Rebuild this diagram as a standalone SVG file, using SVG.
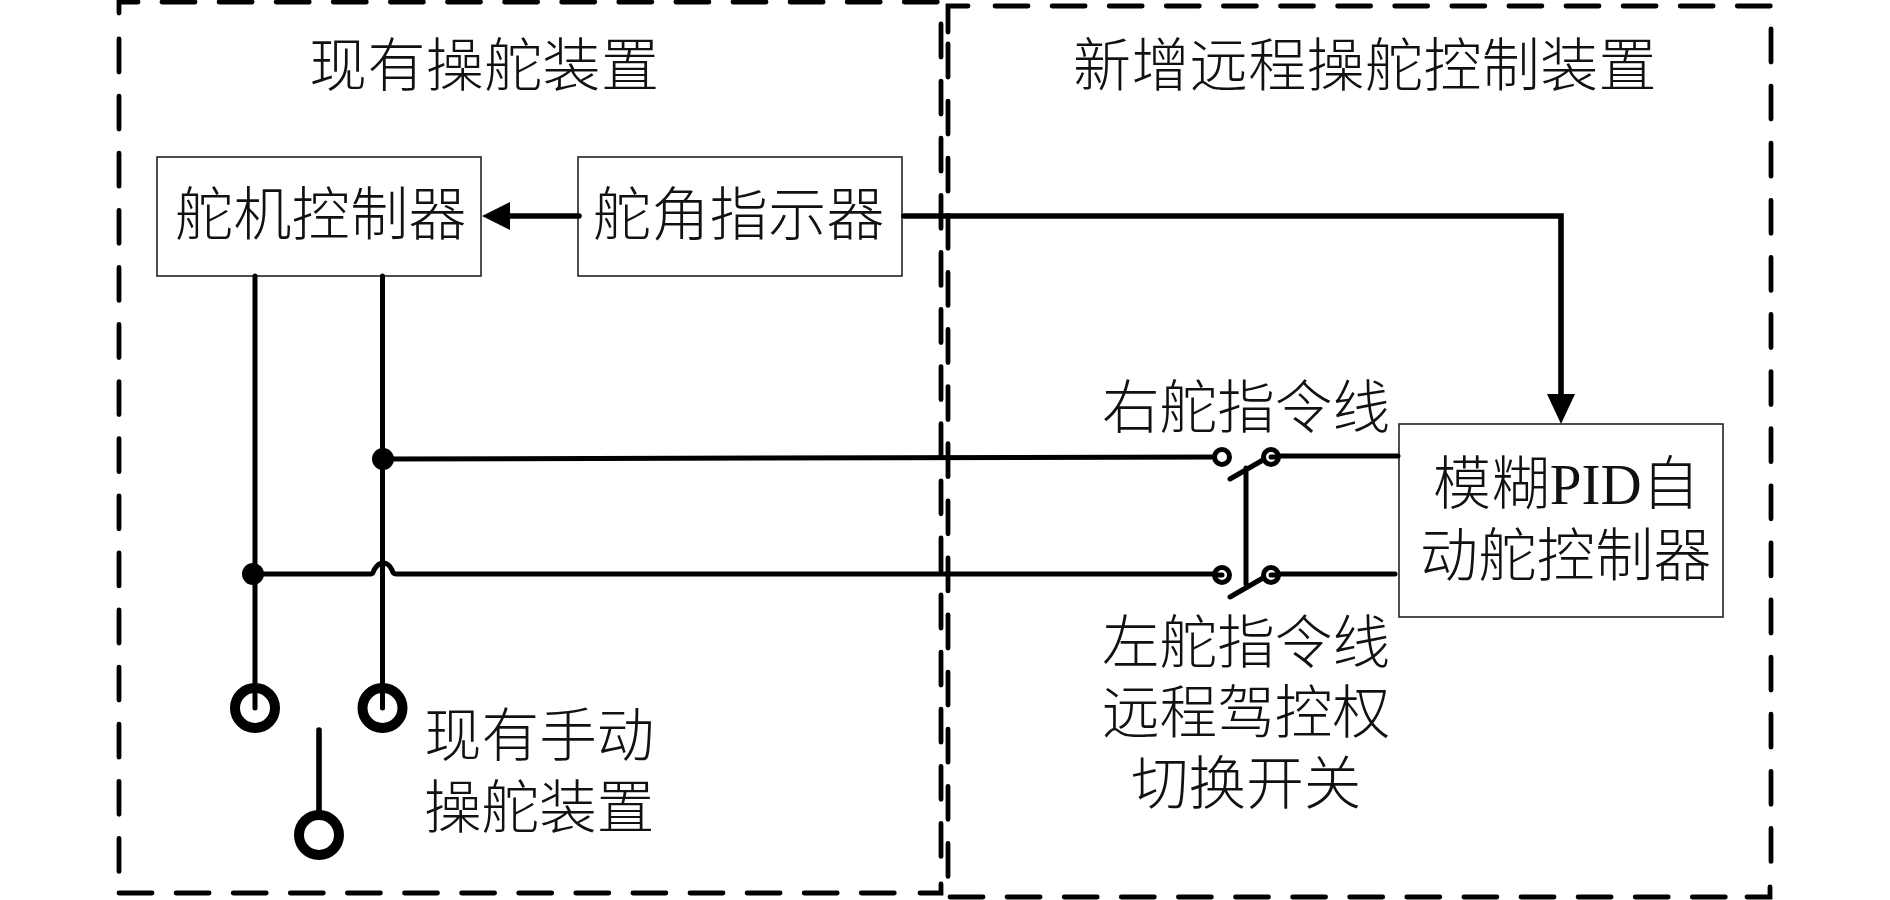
<svg xmlns="http://www.w3.org/2000/svg" width="1890" height="900" viewBox="0 0 1890 900">
<style>
text{font-family:"Noto Sans CJK SC","Noto Sans CJK TC",sans-serif;font-size:58px;letter-spacing:.4px;fill:#111;font-weight:300}
#labels text{font-size:57.600px;letter-spacing:0}
.lat{font-family:"Liberation Serif",serif;font-size:57px;font-weight:400;letter-spacing:0}
.d{fill:none;stroke:#000;stroke-width:4.8;stroke-linecap:round;stroke-dasharray:33 24.100}
.c{fill:none;stroke:#000;stroke-width:4.8;stroke-linecap:round}
.box{fill:#fff;stroke:#222;stroke-width:1.600}
.w{fill:none;stroke:#000;stroke-width:5;stroke-linecap:round}
.t{fill:none;stroke:#000;stroke-width:5.600;stroke-linecap:round}
.o{fill:#fff;stroke:#000;stroke-width:10}
.s{fill:#fff;stroke:#000;stroke-width:5}
</style>
<g id="group-existing">
<path class="c" d="M119 13V2H138M920 893H941V884"/>
<path class="d" d="M162 2H941M119 39V880M119 893H916M941 24V870"/>
<text x="309" y="86">现有操舵装置</text>
</g>
<g id="group-new">
<path class="c" d="M948 32V6H968M1747 897H1770V887"/>
<path class="d" d="M995 6H1771M948 44V885M950 897H1745M1771 29V870"/>
<text x="1073" y="86">新增远程操舵控制装置</text>
</g>
<g id="rudder-controller"><rect class="box" x="157" y="157" width="324" height="119"/><text x="175" y="235">舵机控制器</text></g>
<g id="rudder-indicator"><rect class="box" x="578" y="157" width="324" height="119"/><text x="593" y="235">舵角指示器</text></g>
<g id="pid-controller"><rect class="box" x="1399" y="424" width="324" height="193"/>
<text x="1433" y="504">模糊<tspan class="lat">PID</tspan>自</text>
<text x="1420" y="576">动舵控制器</text></g>
<g id="connectors">
<path class="t" d="M579 216H505"/>
<path d="M482 216L510 202V230Z"/>
<path class="t" d="M904 216H1561V398"/>
<path d="M1561 424L1547 394H1575Z"/>
<path class="w" d="M255 276V710M382.500 276V710"/>
<path class="w" d="M383 459L1222 457M1271 456H1398"/>
<path class="w" d="M253 574H371Q373 574 374 570Q378 563 383 563Q389 563 392 570Q393 574 396 574H1222M1271 574H1395"/>
<path class="t" d="M319 730V815"/>
<path class="w" d="M1246 468V584M1230 479L1263 460M1230 597L1263 578"/>
<circle cx="383" cy="459" r="11"/>
<circle cx="253" cy="574" r="11"/>
</g>
<g id="terminal-left"><circle class="o" cx="255" cy="708" r="20"/><path class="w" stroke-width="4" d="M255 690V708"/></g>
<g id="terminal-right"><circle class="o" cx="382.500" cy="708" r="20"/><path class="w" d="M382.500 690V708"/></g>
<g id="terminal-moving"><circle class="o" cx="319" cy="835" r="20"/></g>
<g id="switch-top"><circle class="s" cx="1222" cy="457" r="7.500"/><circle class="s" cx="1271" cy="457" r="7.500"/><path class="w" stroke-width="3" d="M1271 457H1278"/></g>
<g id="switch-bottom"><circle class="s" cx="1222" cy="575" r="7.500"/><circle class="s" cx="1271" cy="575" r="7.500"/><path class="w" d="M1222 575H1215M1271 575H1278"/></g>
<g id="labels">
<text x="424" y="756">现有手动</text>
<text x="424" y="828">操舵装置</text>
<text x="1102" y="428">右舵指令线</text>
<text x="1102" y="663">左舵指令线</text>
<text x="1102" y="733">远程驾控权</text>
<text x="1131" y="804">切换开关</text>
</g>
</svg>
